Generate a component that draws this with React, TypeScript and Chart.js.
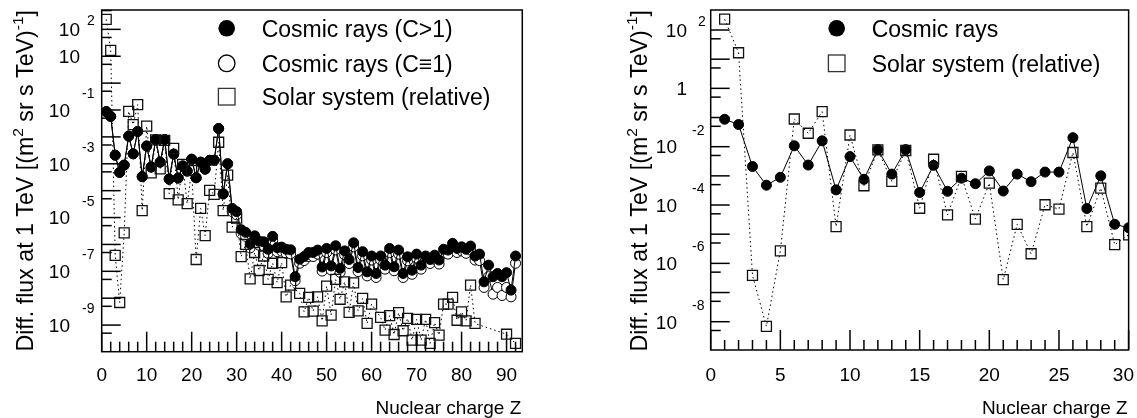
import React, { useEffect, useRef } from "react";
import { Chart, registerables } from "chart.js";
Chart.register(...registerables);

// ---------------- DATA (log10 of flux / abundance) ----------------
const zCosmic = [
  1, 2, 3, 4, 5, 6, 7, 8, 9, 10, 11, 12, 13, 14, 15, 16, 17, 18, 19, 20,
  21, 22, 23, 24, 25, 26, 27, 28, 29, 30, 31, 32, 33, 34, 35, 36, 37, 38, 39, 40,
  41, 42, 43, 44, 45, 46, 47, 48, 49, 50, 51, 52, 53, 54, 55, 56, 57, 58, 59, 60,
  61, 62, 63, 64, 65, 66, 67, 68, 69, 70, 71, 72, 73, 74, 75, 76, 77, 78, 79, 80,
  81, 82, 83, 84, 85, 86, 87, 88, 89, 90, 91, 92,
];
// Cosmic rays (C>1), log10 flux
const cosmicGt1Log = [
  -1.06, -1.24, -2.68, -3.32, -3.05, -1.97, -2.63, -1.8, -3.48, -2.34,
  -3.12, -2.1, -2.94, -2.1, -3.57, -2.64, -3.53, -3.08, -3.27, -2.83,
  -3.52, -2.94, -3.2, -2.87, -2.87, -1.69, -4.12, -3.0, -4.66, -4.78,
  -5.45, -5.55, -5.98, -5.68, -5.88, -5.9, -6.18, -5.7, -6.12, -6.1,
  -6.18, -6.2, -7.2, -6.55, -6.45, -6.3, -6.3, -6.21, -6.84, -6.15,
  -6.8, -6.05, -6.89, -6.24, -6.56, -5.94, -6.86, -6.27, -7.02, -6.43,
  -7.08, -6.43, -6.77, -6.15, -6.83, -6.21, -7.08, -6.46, -6.96, -6.36,
  -6.77, -6.43, -6.56, -6.4, -6.58, -6.18, -6.21, -5.96, -6.15, -6.09,
  -6.18, -6.06, -6.43, -6.36, -7.39, -6.77, -7.2, -7.08, -7.2, -7.05,
  -7.7, -6.43,
];
// Cosmic rays (C=1), log10 flux
const cosmicEq1Log = [
  -1.06, -1.24, -2.68, -3.32, -3.05, -1.97, -2.63, -1.8, -3.48, -2.34,
  -3.12, -2.1, -2.94, -2.1, -3.57, -2.64, -3.53, -3.08, -3.27, -2.83,
  -3.52, -2.94, -3.2, -2.87, -2.87, -1.69, -4.12, -3.0, -4.78, -4.9,
  -5.6, -5.7, -6.13, -5.83, -6.03, -6.05, -6.33, -5.85, -6.27, -6.25,
  -6.33, -6.35, -7.35, -6.7, -6.6, -6.45, -6.45, -6.36, -6.99, -6.3,
  -6.95, -6.2, -7.04, -6.39, -6.71, -6.09, -7.01, -6.42, -7.17, -6.58,
  -7.23, -6.58, -6.92, -6.3, -6.98, -6.36, -7.23, -6.61, -7.11, -6.51,
  -6.92, -6.58, -6.71, -6.55, -6.73, -6.33, -6.36, -6.11, -6.3, -6.24,
  -6.33, -6.21, -6.58, -6.6, -7.6, -7.2, -7.85, -7.6, -7.9, -7.6,
  -7.95, -6.7,
];
const zSolar = [
  1, 2, 3, 4, 5, 6, 7, 8, 9, 10, 11, 12, 13, 14, 15, 16, 17, 18, 19, 20,
  21, 22, 23, 24, 25, 26, 27, 28, 29, 30, 31, 32, 33, 34, 35, 36, 37, 38, 39, 40,
  41, 42, 44, 45, 46, 47, 48, 49, 50, 51, 52, 53, 54, 55, 56, 57, 58, 59, 60,
  62, 63, 64, 65, 66, 67, 68, 69, 70, 71, 72, 73, 74, 75, 76, 77, 78, 79, 80,
  81, 82, 83, 90, 92,
];
// Solar system (relative), log10
const solarLog = [
  2.37, 1.22, -6.41, -8.16, -5.57, -1.05, -1.54, -0.8, -4.74, -1.6,
  -3.34, -2.11, -3.19, -2.13, -4.11, -2.43, -4.34, -3.02, -4.48, -3.25,
  -6.56, -4.66, -5.67, -3.99, -4.14, -2.2, -4.74, -3.42, -5.36, -5.02,
  -6.45, -6.0, -7.28, -6.3, -6.97, -6.43, -7.3, -6.7, -7.42, -6.68,
  -7.95, -7.51,
  -7.82, -8.51, -7.97, -8.48, -7.95, -8.84, -7.55, -8.63, -7.3, -8.04,
  -7.39, -8.53, -7.43, -8.47, -8.01, -8.94, -8.22,
  -8.71, -9.19, -8.65, -9.35, -8.54, -9.21, -8.75, -9.56, -8.79, -9.56,
  -8.79, -9.68, -8.91, -9.37, -8.22, -8.22, -7.97, -8.82, -8.51, -8.84,
  -7.51, -8.94,
  -9.34, -9.68,
];
const rightMaxZ = 30;

const leftXTicks = [0, 10, 20, 30, 40, 50, 60, 70, 80, 90];
const rightXTicks = [0, 5, 10, 15, 20, 25, 30];
const leftYExps = [2, 1, -1, -3, -5, -7, -9];
const rightYExps = [2, 0, -2, -4, -6, -8];
const leftLegend = ["Cosmic rays (C>1)", "Cosmic rays (C\u22611)", "Solar system (relative)"];
const rightLegend = ["Cosmic rays", "Solar system (relative)"];
const xTitle = "Nuclear charge Z";
const yTitleParts = [
  { t: "Diff. flux at 1 TeV [(m", sup: false },
  { t: "2", sup: true },
  { t: " sr s TeV)", sup: false },
  { t: "-1", sup: true },
  { t: "]", sup: false },
];

const FONT = '"Liberation Sans", Arial, Helvetica, sans-serif';

type Kind = "filled" | "open" | "square";

type Panel = {
  offsetX: number;
  width: number;
  area: { left: number; right: number; top: number; bottom: number };
  xMax: number;
  yMinExp: number;
  yMaxExp: number;
  xTicks: number[];
  xMinorStep: number;
  xMajorStep: number;
  yExps: number[];
  lab: { plainRight: number; sup2Left: number; negRight: number; supNegLeft: number };
  yTitleX: number;
  legendMarkX: number;
  legendTextX: number;
  legendY: number[];
  legend: { label: string; kind: Kind }[];
  datasets: any[];
};

function pts(zs: number[], logs: number[], maxZ = 999) {
  const out: { x: number; y: number }[] = [];
  for (let i = 0; i < zs.length; i++) {
    if (zs[i] <= maxZ) out.push({ x: zs[i], y: Math.pow(10, logs[i]) });
  }
  return out;
}

function solarDS(maxZ?: number) {
  return {
    label: "Solar system (relative)",
    data: pts(zSolar, solarLog, maxZ),
    showLine: true,
    borderColor: "#000",
    borderWidth: 1,
    borderDash: [1.5, 3],
    pointStyle: "rect",
    pointRadius: 7.07,
    pointBorderWidth: 1.3,
    pointBorderColor: "#111",
    pointBackgroundColor: "rgba(0,0,0,0)",
    clip: 0,
  };
}
function cosmicDS(label: string, logs: number[], filled: boolean, maxZ?: number) {
  return {
    label,
    data: pts(zCosmic, logs, maxZ),
    showLine: true,
    borderColor: "#000",
    borderWidth: 1,
    pointStyle: "circle",
    pointRadius: 5,
    pointBorderWidth: 1,
    pointBorderColor: "#000",
    pointBackgroundColor: filled ? "#000" : "#fff",
    clip: 0,
  };
}

const leftPanel: Panel = {
  offsetX: 0,
  width: 568,
  area: { left: 101.7, right: 522.3, top: 10, bottom: 351.7 },
  xMax: 93.5,
  yMinExp: -9.99,
  yMaxExp: 2.72,
  xTicks: leftXTicks,
  xMinorStep: 2,
  xMajorStep: 10,
  yExps: leftYExps,
  lab: { plainRight: 80, sup2Left: 87, negRight: 70, supNegLeft: 82 },
  yTitleX: 33,
  legendMarkX: 226.7,
  legendTextX: 261.7,
  legendY: [28.3, 63.3, 96.7],
  legend: [
    { label: leftLegend[0], kind: "filled" },
    { label: leftLegend[1], kind: "open" },
    { label: leftLegend[2], kind: "square" },
  ],
  datasets: [
    solarDS(),
    cosmicDS(leftLegend[0], cosmicGt1Log, true),
    cosmicDS(leftLegend[1], cosmicEq1Log, false),
  ],
};

const rightPanel: Panel = {
  offsetX: 568,
  width: 569,
  area: { left: 710.7, right: 1131.7, top: 10, bottom: 350 },
  xMax: 30,
  yMinExp: -8.97,
  yMaxExp: 2.686,
  xTicks: rightXTicks,
  xMinorStep: 1,
  xMajorStep: 5,
  yExps: rightYExps,
  lab: { plainRight: 687, sup2Left: 698, negRight: 677, supNegLeft: 692 },
  yTitleX: 647,
  legendMarkX: 836.7,
  legendTextX: 871.7,
  legendY: [28.3, 63.3],
  legend: [
    { label: rightLegend[0], kind: "filled" },
    { label: rightLegend[1], kind: "square" },
  ],
  datasets: [solarDS(rightMaxZ), cosmicDS(rightLegend[0], cosmicGt1Log, true, rightMaxZ)],
};

function makePlugin(p: Panel) {
  const ox = p.offsetX;
  return {
    id: "rootDecor",
    beforeDraw(chart: any) {
      const ctx = chart.ctx;
      ctx.save();
      ctx.fillStyle = "#fff";
      ctx.fillRect(0, 0, chart.width, chart.height);
      ctx.restore();
    },
    afterDatasetsDraw(chart: any) {
      const ctx: CanvasRenderingContext2D = chart.ctx;
      const xs = chart.scales.x;
      const ys = chart.scales.y;
      const { left, right, top, bottom } = chart.chartArea;
      ctx.save();
      ctx.strokeStyle = "#000";
      ctx.fillStyle = "#000";
      ctx.lineWidth = 1.5;
      const line = (x1: number, y1: number, x2: number, y2: number) => {
        ctx.beginPath();
        ctx.moveTo(x1, y1);
        ctx.lineTo(x2, y2);
        ctx.stroke();
      };
      // frame
      ctx.strokeRect(left, top, right - left, bottom - top);
      // y ticks
      for (let d = Math.ceil(p.yMaxExp); d >= Math.floor(p.yMinExp); d--) {
        if (d <= p.yMaxExp && d >= p.yMinExp) {
          const y = ys.getPixelForValue(Math.pow(10, d));
          line(left, y, left + 19, y);
        }
        const lm = d + Math.log10(0.5);
        if (lm <= p.yMaxExp && lm >= p.yMinExp) {
          const ym = ys.getPixelForValue(0.5 * Math.pow(10, d));
          line(left, ym, left + 10, ym);
        }
      }
      // x ticks
      for (let v = 0; v <= p.xMax + 1e-9; v += p.xMinorStep) {
        const x = xs.getPixelForValue(v);
        const major = Math.abs(v % p.xMajorStep) < 1e-9;
        line(x, bottom, x, bottom - (major ? 20 : 10));
      }
      // x labels
      ctx.font = `19px ${FONT}`;
      ctx.textBaseline = "alphabetic";
      ctx.textAlign = "center";
      for (const v of p.xTicks) {
        let x = xs.getPixelForValue(v);
        const w = ctx.measureText(String(v)).width;
        if (x + w / 2 > chart.width - 3) x = chart.width - 3 - w / 2;
        ctx.fillText(String(v), x, 381);
      }
      // y labels
      const cap = 19 * 0.358;
      for (const e of p.yExps) {
        const y = ys.getPixelForValue(Math.pow(10, e));
        ctx.font = `19px ${FONT}`;
        ctx.textAlign = "right";
        if (e === 0) {
          ctx.fillText("1", p.lab.plainRight - ox, y + cap);
        } else if (e === 1) {
          ctx.fillText("10", p.lab.plainRight - ox, y + cap);
        } else if (e > 0) {
          ctx.fillText("10", p.lab.plainRight - ox, y + cap);
          ctx.font = `14px ${FONT}`;
          ctx.textAlign = "left";
          ctx.fillText(String(e), p.lab.sup2Left - ox, y - 9 + 14 * 0.358);
        } else {
          ctx.fillText("10", p.lab.negRight - ox, y + cap);
          ctx.font = `14px ${FONT}`;
          ctx.textAlign = "left";
          ctx.fillText(String(e), p.lab.supNegLeft - ox, y - 17 + 14 * 0.358);
        }
      }
      // x title
      ctx.font = `19px ${FONT}`;
      ctx.textAlign = "right";
      ctx.fillText(xTitle, right - 1, 414);
      // y title (rotated)
      const mainF = `23.2px ${FONT}`;
      const supF = `15.5px ${FONT}`;
      let total = 0;
      const widths: number[] = [];
      for (const part of yTitleParts) {
        ctx.font = part.sup ? supF : mainF;
        const w = ctx.measureText(part.t).width;
        widths.push(w);
        total += w;
      }
      ctx.save();
      ctx.translate(p.yTitleX - ox, top);
      ctx.rotate(-Math.PI / 2);
      ctx.textAlign = "left";
      let cx = -total;
      yTitleParts.forEach((part, i) => {
        ctx.font = part.sup ? supF : mainF;
        ctx.fillText(part.t, cx, part.sup ? -10 : 0);
        cx += widths[i];
      });
      ctx.restore();
      // legend
      ctx.font = `23px ${FONT}`;
      ctx.textAlign = "left";
      p.legend.forEach((item, i) => {
        const mx = p.legendMarkX - ox;
        const my = p.legendY[i];
        ctx.lineWidth = 1.3;
        if (item.kind === "filled") {
          ctx.beginPath();
          ctx.arc(mx, my, 8.3, 0, Math.PI * 2);
          ctx.fill();
        } else if (item.kind === "open") {
          ctx.beginPath();
          ctx.arc(mx, my, 8.3, 0, Math.PI * 2);
          ctx.stroke();
        } else {
          ctx.strokeStyle = "#333";
          ctx.strokeRect(mx - 8.3, my - 8.3, 16.6, 16.6);
          ctx.strokeStyle = "#000";
        }
        ctx.fillText(item.label, p.legendTextX - ox, my + 23 * 0.358);
      });
      ctx.restore();
    },
  };
}

function PanelChart({ p }: { p: Panel }) {
  const ref = useRef<HTMLCanvasElement | null>(null);
  useEffect(() => {
    if (!ref.current) return;
    const a = p.area;
    const chart = new Chart(ref.current, {
      type: "scatter",
      data: { datasets: p.datasets },
      options: {
        animation: false,
        responsive: false,
        events: [],
        layout: {
          padding: {
            left: a.left - p.offsetX,
            right: p.width - (a.right - p.offsetX),
            top: a.top,
            bottom: 418 - a.bottom,
          },
        },
        plugins: { legend: { display: false }, tooltip: { enabled: false } },
        scales: {
          x: { type: "linear", min: 0, max: p.xMax, bounds: "data", display: false },
          y: {
            type: "logarithmic",
            min: Math.pow(10, p.yMinExp),
            max: Math.pow(10, p.yMaxExp),
            bounds: "data",
            display: false,
          },
        },
      } as any,
      plugins: [makePlugin(p)],
    });
    return () => chart.destroy();
  }, [p]);
  return (
    <canvas
      ref={ref}
      width={p.width}
      height={418}
      style={{ position: "absolute", left: p.offsetX, top: 0, width: p.width, height: 418 }}
    />
  );
}

export default function App() {
  return (
    <div style={{ position: "absolute", left: 0, top: 0, width: 1137, height: 418, background: "#fff", overflow: "hidden" }}>
      <PanelChart p={leftPanel} />
      <PanelChart p={rightPanel} />
    </div>
  );
}
